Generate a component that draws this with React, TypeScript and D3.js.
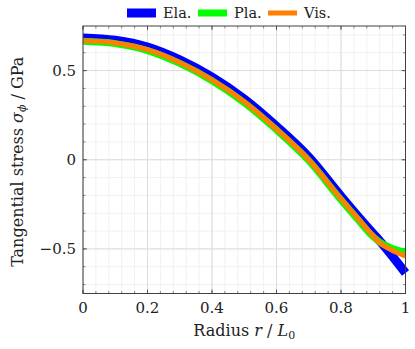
import React from 'react';
import * as d3 from 'd3';

// radius samples and tangential stress (GPa)
const radius = [0, 0.1, 0.2, 0.3, 0.4, 0.5, 0.6, 0.7, 0.8, 0.85, 0.9, 0.92, 0.95, 1.0];
const elastic = [0.683, 0.67, 0.632, 0.56, 0.463, 0.34, 0.187, 0.015, -0.205, -0.312, -0.415, -0.455, -0.52, -0.635];
const plastic = [0.664, 0.651, 0.612, 0.54, 0.443, 0.32, 0.167, -0.005, -0.225, -0.33, -0.432, -0.462, -0.49, -0.52];
const viscous = [0.668, 0.655, 0.617, 0.545, 0.448, 0.325, 0.172, 0.0, -0.22, -0.325, -0.428, -0.465, -0.5, -0.54];

const seriesNames = ['Ela.', 'Pla.', 'Vis.'];
const seriesColors = ['#0000ff', '#00ff00', '#ff7f00'];
const seriesWidths = [9, 7, 5];

const xTicks = [0, 0.2, 0.4, 0.6, 0.8, 1];
const xTickLabels = ['0', '0.2', '0.4', '0.6', '0.8', '1'];
const yTicks = [-0.5, 0, 0.5];
const yTickLabels = ['\u22120.5', '0', '0.5'];

const W = 415;
const H = 349;
const left = 83;
const right = 405.5;
const top = 26;
const bottom = 293.5;

const serif = '"DejaVu Serif", serif';

export default function App() {
  const x = d3.scaleLinear().domain([0, 1]).range([left, right]);
  const y = d3.scaleLinear().domain([-0.75, 0.75]).range([bottom, top]);

  const xMinor = d3.range(0, 1.0001, 0.04);
  const yMinor = d3.range(-0.7, 0.7001, 0.1);

  const line = d3
    .line<number>()
    .x((_, i) => x(radius[i]))
    .y((d) => y(d))
    .curve(d3.curveMonotoneX);

  const series = [elastic, plastic, viscous];
  const axisColor = '#404040';

  // legend layout
  const legendX = [127, 198, 268];

  return (
    <svg width={W} height={H} style={{ position: 'absolute', left: 0, top: 0 }}>
      <rect width={W} height={H} fill="#fff" />
      {/* minor grid */}
      {xMinor.map((v, i) => (
        <line key={'xm' + i} x1={x(v)} x2={x(v)} y1={top} y2={bottom} stroke="#f1f1f1" strokeWidth={1} />
      ))}
      {yMinor.map((v, i) => (
        <line key={'ym' + i} x1={left} x2={right} y1={y(v)} y2={y(v)} stroke="#f1f1f1" strokeWidth={1} />
      ))}
      {/* major grid */}
      {xTicks.map((v, i) => (
        <line key={'xg' + i} x1={x(v)} x2={x(v)} y1={top} y2={bottom} stroke="#dcdcdc" strokeWidth={1} />
      ))}
      {yTicks.map((v, i) => (
        <line key={'yg' + i} x1={left} x2={right} y1={y(v)} y2={y(v)} stroke="#dcdcdc" strokeWidth={1} />
      ))}
      {/* ticks */}
      {xMinor.map((v, i) => (
        <g key={'xmt' + i} stroke={axisColor} strokeWidth={0.6}>
          <line x1={x(v)} x2={x(v)} y1={bottom} y2={bottom - 2.5} />
          <line x1={x(v)} x2={x(v)} y1={top} y2={top + 2.5} />
        </g>
      ))}
      {yMinor.map((v, i) => (
        <g key={'ymt' + i} stroke={axisColor} strokeWidth={0.6}>
          <line x1={left} x2={left + 2.5} y1={y(v)} y2={y(v)} />
          <line x1={right} x2={right - 2.5} y1={y(v)} y2={y(v)} />
        </g>
      ))}
      {xTicks.map((v, i) => (
        <g key={'xt' + i} stroke={axisColor} strokeWidth={0.8}>
          <line x1={x(v)} x2={x(v)} y1={bottom} y2={bottom - 4} />
          <line x1={x(v)} x2={x(v)} y1={top} y2={top + 4} />
        </g>
      ))}
      {yTicks.map((v, i) => (
        <g key={'yt' + i} stroke={axisColor} strokeWidth={0.8}>
          <line x1={left} x2={left + 4} y1={y(v)} y2={y(v)} />
          <line x1={right} x2={right - 4} y1={y(v)} y2={y(v)} />
        </g>
      ))}
      {/* curves */}
      {series.map((s, i) => (
        <path key={'s' + i} d={line(s) || ''} fill="none" stroke={seriesColors[i]} strokeWidth={seriesWidths[i]} strokeLinejoin="round" />
      ))}
      {/* frame */}
      <rect x={left} y={top} width={right - left} height={bottom - top} fill="none" stroke={axisColor} strokeWidth={1} />
      {/* tick labels */}
      {xTicks.map((v, i) => (
        <text key={'xl' + i} x={x(v)} y={312.5} textAnchor="middle" fontFamily={serif} fontSize={15} fill="#222">
          {xTickLabels[i]}
        </text>
      ))}
      {yTicks.map((v, i) => (
        <text key={'yl' + i} x={76} y={y(v) + 5.5} textAnchor="end" fontFamily={serif} fontSize={15} fill="#222">
          {yTickLabels[i]}
        </text>
      ))}
      {/* axis titles */}
      <text x={(left + right) / 2} y={336} textAnchor="middle" fontFamily={serif} fontSize={16} fill="#222">
        Radius <tspan fontStyle="italic">r</tspan> / <tspan fontStyle="italic">L</tspan>
        <tspan fontSize={11} dy={3}>0</tspan>
      </text>
      <text
        transform={`translate(23, ${(top + bottom) / 2 + 2}) rotate(-90)`}
        textAnchor="middle"
        fontFamily={serif}
        fontSize={16}
        fill="#222"
      >
        Tangential stress <tspan fontStyle="italic">σ</tspan>
        <tspan fontSize={11} dy={3} fontStyle="italic">ϕ</tspan>
        <tspan dy={-3}> / GPa</tspan>
      </text>
      {/* legend */}
      <rect x={127} y={4} width={205} height={19} fill="#fff" />
      {seriesNames.map((n, i) => (
        <g key={'lg' + i}>
          <line x1={legendX[i]} x2={legendX[i] + 29} y1={13} y2={13} stroke={seriesColors[i]} strokeWidth={seriesWidths[i]} />
          <text x={legendX[i] + 36} y={18} fontFamily={serif} fontSize={14.5} fill="#222">
            {n}
          </text>
        </g>
      ))}
    </svg>
  );
}
